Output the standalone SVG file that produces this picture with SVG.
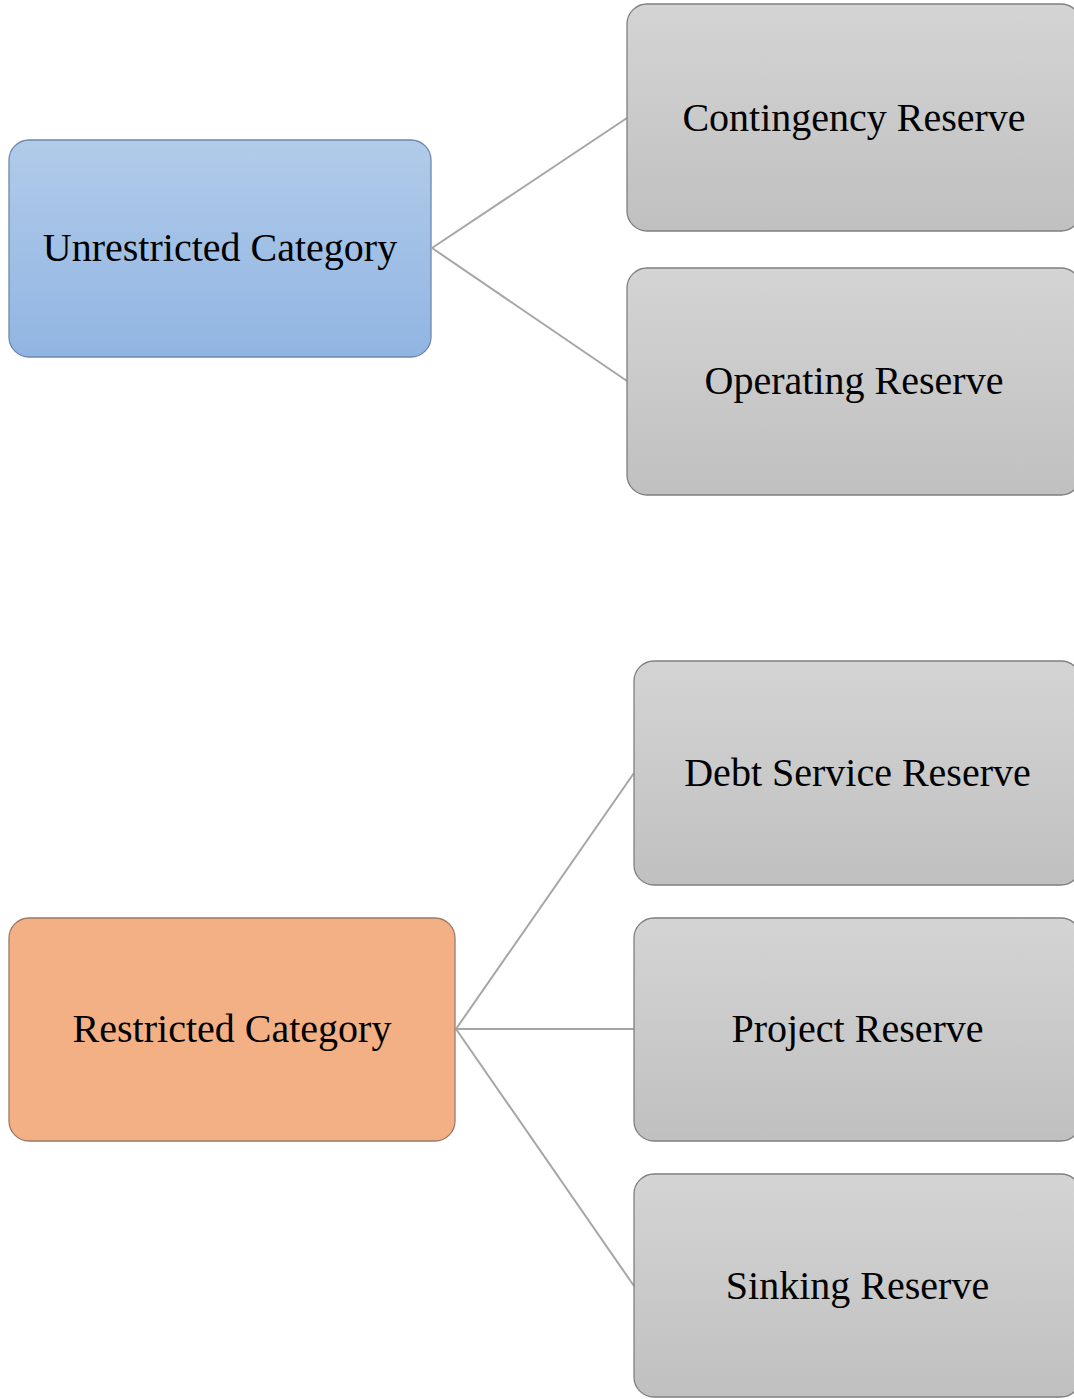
<svg xmlns="http://www.w3.org/2000/svg" width="1074" height="1399" viewBox="0 0 1074 1399">
<defs>
<linearGradient id="gBlue" x1="0" y1="0" x2="0" y2="1"><stop offset="0" stop-color="#b1cbea"/><stop offset="1" stop-color="#91b5e2"/></linearGradient>
<linearGradient id="gGray" x1="0" y1="0" x2="0" y2="1"><stop offset="0" stop-color="#d4d4d4"/><stop offset="1" stop-color="#c0c0c0"/></linearGradient>
<style>
text{font-family:"Liberation Serif","Times New Roman",serif;font-size:40px;fill:#000;text-anchor:middle}
.blue{fill:url(#gBlue);stroke:#6f87a8;stroke-width:1.3}
.gray{fill:url(#gGray);stroke:#7f7f7f;stroke-width:1.3}
.orange{fill:#f3b084;stroke:#9a7a66;stroke-width:1.3}
.conn line{stroke:#a6a6a6;stroke-width:2}
</style>
</defs>
<rect width="1074" height="1399" fill="#fff"/>
<g class="conn" id="connectors">
<line x1="432" y1="248" x2="627" y2="118"/>
<line x1="432" y1="248" x2="627" y2="381"/>
<line x1="456" y1="1029" x2="634" y2="773"/>
<line x1="456" y1="1029" x2="634" y2="1029"/>
<line x1="456" y1="1029" x2="634" y2="1286"/>
</g>
<g id="unrestricted"><rect class="blue" x="9" y="140" width="422" height="217" rx="20"/><text x="220" y="261">Unrestricted Category</text></g>
<g id="contingency"><rect class="gray" x="627" y="4" width="454" height="227" rx="20"/><text x="854" y="131">Contingency Reserve</text></g>
<g id="operating"><rect class="gray" x="627" y="268" width="454" height="227" rx="20"/><text x="854" y="394">Operating Reserve</text></g>
<g id="restricted"><rect class="orange" x="9" y="918" width="446" height="223" rx="20"/><text x="232" y="1042">Restricted Category</text></g>
<g id="debt"><rect class="gray" x="634" y="661" width="447" height="224" rx="20"/><text x="857.5" y="786">Debt Service Reserve</text></g>
<g id="project"><rect class="gray" x="634" y="918" width="447" height="223" rx="20"/><text x="857.5" y="1042">Project Reserve</text></g>
<g id="sinking"><rect class="gray" x="634" y="1174" width="447" height="223" rx="20"/><text x="857.5" y="1299">Sinking Reserve</text></g>
</svg>
